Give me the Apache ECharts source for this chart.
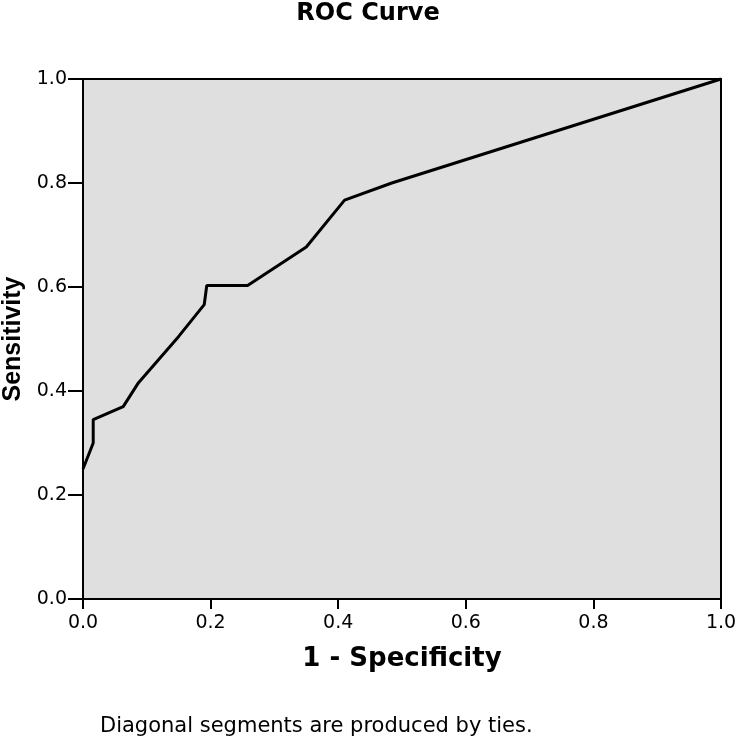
<!DOCTYPE html>
<html>
<head>
<meta charset="utf-8">
<script src="https://cdn.jsdelivr.net/npm/echarts@6/dist/echarts.min.js"></script>
<style>html,body{margin:0;padding:0;background:#fff}#c{width:736px;height:740px}</style>
</head>
<body>
<div id="c"></div>
<script>
const fpr = [0, 0.016, 0.016, 0.063, 0.087, 0.15, 0.19, 0.194, 0.258, 0.35, 0.41, 0.484, 1];
const tpr = [0.25, 0.30, 0.345, 0.37, 0.416, 0.505, 0.566, 0.603, 0.603, 0.677, 0.767, 0.80, 1];
const tickLabels = ['0.0', '0.2', '0.4', '0.6', '0.8', '1.0'];
const titleText = 'ROC Curve';
const xName = '1 - Specificity';
const yName = 'Sensitivity';
const footnote = 'Diagonal segments are produced by ties.';

const chart = echarts.init(document.getElementById('c'));
const dv = 'DejaVu Sans';
const lib = 'Liberation Sans';
chart.setOption({
  animation: false,
  title: [
    { text: titleText, left: 'center', top: -3, textStyle: { fontFamily: dv, fontSize: 24, fontWeight: 'bold', color: '#000' } },
    { text: footnote, left: 95, top: 711, textStyle: { fontFamily: dv, fontSize: 21, fontWeight: 'normal', color: '#000' } }
  ],
  grid: { left: 83, right: 15, top: 79, bottom: 141, show: true, backgroundColor: '#dfdfdf', borderColor: '#000', borderWidth: 2, containLabel: false, outerBoundsMode: 'none' },
  xAxis: {
    type: 'value', min: 0, max: 1, interval: 0.2,
    name: xName, nameLocation: 'middle', nameGap: 47,
    nameTextStyle: { fontFamily: dv, fontSize: 26, fontWeight: 'bold', color: '#000' },
    axisLine: { show: true, lineStyle: { color: '#000', width: 2 } },
    axisTick: { show: true, length: 10, lineStyle: { color: '#000', width: 2 } },
    axisLabel: { fontFamily: dv, fontSize: 19, color: '#000', margin: 15, formatter: v => tickLabels[Math.round(v * 5)] },
    splitLine: { show: false }
  },
  yAxis: {
    type: 'value', min: 0, max: 1, interval: 0.2,
    name: yName, nameLocation: 'middle', nameGap: 56,
    nameTextStyle: { fontFamily: lib, fontSize: 25, fontWeight: 'bold', color: '#000' },
    axisLine: { show: true, lineStyle: { color: '#000', width: 2 } },
    axisTick: { show: true, length: 15, lineStyle: { color: '#000', width: 2 } },
    axisLabel: { fontFamily: dv, fontSize: 19, color: '#000', margin: 16, formatter: v => tickLabels[Math.round(v * 5)] },
    splitLine: { show: false }
  },
  series: [{
    type: 'line',
    data: fpr.map((x, i) => [x, tpr[i]]),
    showSymbol: false,
    symbol: 'none',
    lineStyle: { color: '#000', width: 3 },
    clip: false
  }]
});
</script>
</body>
</html>
